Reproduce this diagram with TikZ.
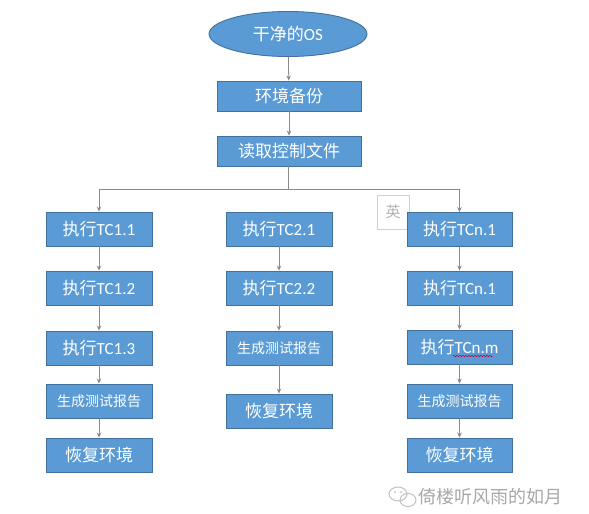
\documentclass[tikz,border=0pt]{standalone}
\usepackage{fontspec}
\newfontfamily\cjk{Noto Sans CJK SC}
\newfontfamily\lat{Carlito}
\usetikzlibrary{arrows.meta,shapes.geometric,decorations.pathmorphing}
\definecolor{boxfill}{HTML}{5B9BD5}
\definecolor{boxline}{HTML}{41719C}
\definecolor{arrowgray}{HTML}{8A8A8A}
\definecolor{wmgray}{HTML}{A8A8A8}
\tikzset{
  flowbox/.style={draw=boxline, line width=0.9pt, fill=boxfill, text=white, inner sep=0pt,
    minimum width=106pt, minimum height=34pt, font=\cjk\fontsize{17}{20}\selectfont},
  topbox/.style={flowbox, minimum width=144pt, minimum height=30pt},
  smalltext/.style={font=\cjk\fontsize{14}{17}\selectfont},
  startshape/.style={ellipse, draw=boxline, line width=0.9pt, fill=boxfill, text=white, inner sep=0pt,
    minimum width=158pt, minimum height=45pt, font=\cjk\fontsize{17}{20}\selectfont},
  flowarrow/.style={draw=arrowgray, line width=0.8pt, -{Stealth[length=5pt,width=4.5pt]}},
  flowline/.style={draw=arrowgray, line width=0.8pt},
  imebox/.style={draw=black!18, line width=1pt, fill=white, text=black!30, inner sep=0pt,
    minimum width=32pt, minimum height=34pt, font=\cjk\fontsize{15}{18}\selectfont},
  watermark/.style={text=wmgray, inner sep=0pt, font=\cjk\fontsize{18}{21}\selectfont}
}
\begin{document}
\begin{tikzpicture}[x=1pt,y=-1pt]
\useasboundingbox (0,0) rectangle (589,514);
\fill[white] (0,0) rectangle (589,514);

% IME artifact box (behind the right column)
\node[imebox] (ime) at (393,212) {英};

% top
\node[startshape] (os) at (288,34) {干净的{\lat OS}};
\node[topbox] (backup) at (289,96) {环境备份};
\node[topbox] (readctl) at (289,151) {读取控制文件};

% left column
\node[flowbox] (l1) at (99,229) {执行{\lat TC1.1}};
\node[flowbox] (l2) at (99,288) {执行{\lat TC1.2}};
\node[flowbox] (l3) at (99,348) {执行{\lat TC1.3}};
\node[flowbox, smalltext] (l4) at (99,401) {生成测试报告};
\node[flowbox] (l5) at (99,455) {恢复环境};

% middle column
\node[flowbox] (m1) at (279,229) {执行{\lat TC2.1}};
\node[flowbox] (m2) at (279,288) {执行{\lat TC2.2}};
\node[flowbox, smalltext] (m3) at (279,348) {生成测试报告};
\node[flowbox] (m4) at (279,411) {恢复环境};

% right column
\node[flowbox, minimum width=105pt] (r1) at (459.5,229.5) {执行{\lat TCn.1}};
\node[flowbox, minimum width=105pt] (r2) at (459.5,288) {执行{\lat TCn.1}};
\node[flowbox, minimum width=105pt] (r3) at (459.5,347) {执行{\lat TCn.m}};
\node[flowbox, minimum width=105pt, smalltext] (r4) at (459.5,401) {生成测试报告};
\node[flowbox, minimum width=105pt] (r5) at (459.5,455) {恢复环境};

% spell-check underline under TCn.m
\coordinate (wavyA) at (453,356);
\coordinate (wavyB) at (493,356);
\draw[red!75!blue, line width=0.5pt, decorate, decoration={snake, amplitude=0.8pt, segment length=3pt}] (wavyA) -- (wavyB);

% connectors
\draw[flowarrow] (os) -- (backup);
\draw[flowarrow] (backup) -- (readctl);
\coordinate (split) at (288,189);
\draw[flowline] (readctl.south -| split) -- (split);
\draw[flowarrow] (split) -| (l1.north);
\draw[flowarrow] (split) -| (r1.north);

\draw[flowarrow] (l1) -- (l2);
\draw[flowarrow] (l2) -- (l3);
\draw[flowarrow] (l3) -- (l4);
\draw[flowarrow] (l4) -- (l5);

\draw[flowarrow] (m1) -- (m2);
\draw[flowarrow] (m2) -- (m3);
\draw[flowarrow] (m3) -- (m4);

\draw[flowarrow] (r1) -- (r2);
\draw[flowarrow] (r2) -- (r3);
\draw[flowarrow] (r3) -- (r4);
\draw[flowarrow] (r4) -- (r5);

% watermark
\begin{scope}[draw=wmgray!70, line width=1pt]
  \draw (398,494) ellipse [x radius=9pt, y radius=7pt];
  \draw (408,500) ellipse [x radius=8pt, y radius=6.5pt];
  \fill[wmgray!70] (395,492) circle (1pt) (401,492) circle (1pt);
\end{scope}
\node[watermark, anchor=west] (wm) at (418,497) {倚楼听风雨的如月};
\end{tikzpicture}
\end{document}
